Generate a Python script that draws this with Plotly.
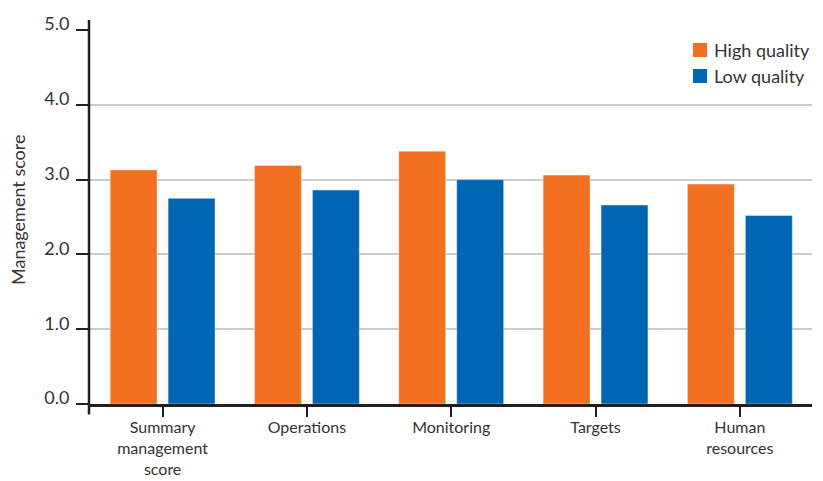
import plotly.graph_objects as go

categories = ["Summary<br>management<br>score", "Operations", "Monitoring", "Targets", "Human<br>resources"]
series_names = ["High quality", "Low quality"]
high_quality = [3.13, 3.19, 3.38, 3.06, 2.94]
low_quality = [2.75, 2.86, 3.00, 2.66, 2.52]
y_ticks = [0, 1, 2, 3, 4, 5]
y_ticklabels = ["0.0", "1.0", "2.0", "3.0", "4.0", "5.0"]
y_title = "Management score"

ORANGE = "#F37021"
BLUE = "#0066B3"
DARK = "#231F20"
TEXT = "#333333"
FONT = "Lato"

fig = go.Figure()
fig.add_trace(go.Bar(x=categories, y=high_quality, name=series_names[0], marker_color=ORANGE))
fig.add_trace(go.Bar(x=categories, y=low_quality, name=series_names[1], marker_color=BLUE))

# y axis line extending beyond plot area
shapes = [dict(type="line", xref="paper", yref="paper", x0=0, x1=0, y0=-0.028, y1=1.027,
               line=dict(color=DARK, width=2.5))]
annotations = [dict(text=y_title, xref="paper", yref="paper", x=-0.0982, y=0.5187,
                    xanchor="center", yanchor="middle", textangle=-90, showarrow=False,
                    font=dict(family=FONT, size=18, color=TEXT))]
# custom legend (square + label)
for i, (name, col) in enumerate(zip(series_names, [ORANGE, BLUE])):
    yc = 0.9465 - i * 0.0695
    shapes.append(dict(type="rect", xref="paper", yref="paper",
                       x0=0.8354, x1=0.8548, y0=yc - 0.0187, y1=yc + 0.0187,
                       fillcolor=col, line=dict(width=0)))
    annotations.append(dict(text=name, xref="paper", yref="paper", x=0.8617, y=yc,
                            xanchor="left", yanchor="middle", showarrow=False,
                            font=dict(family=FONT, size=18, color=TEXT)))

fig.update_layout(
    width=815, height=473,
    margin=dict(l=81, r=11, t=22, b=77),
    paper_bgcolor="white", plot_bgcolor="white",
    barmode="group", bargap=0.197, bargroupgap=0.19,
    font=dict(family=FONT, size=18, color=TEXT),
    showlegend=False,
    xaxis=dict(range=[-0.51, 4.5], showline=True, linecolor=DARK, linewidth=2.5,
               ticks="outside", ticklen=10, tickwidth=2, tickcolor=DARK,
               showgrid=False, zeroline=False, automargin=False,
               ticklabelstandoff=-3,
               tickfont=dict(family=FONT, size=16, color=TEXT)),
    yaxis=dict(range=[0, 5], tickvals=y_ticks, ticktext=y_ticklabels,
               showline=False, zeroline=False, showgrid=True,
               gridcolor="#CCCCCC", gridwidth=1.5, automargin=False,
               ticks="outside", ticklen=12, tickwidth=2, tickcolor=DARK,
               ticklabelstandoff=3, ticklabelshift=-6,
               tickfont=dict(family=FONT, size=18, color=TEXT)),
    shapes=shapes,
    annotations=annotations,
)

fig.write_html("out.html")
